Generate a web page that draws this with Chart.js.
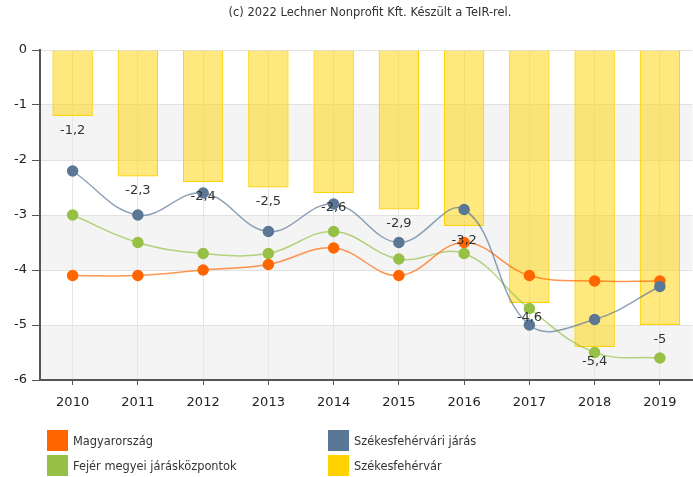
<!DOCTYPE html>
<html><head><meta charset="utf-8">
<script src="https://cdn.jsdelivr.net/npm/chart.js@4.4.1/dist/chart.umd.min.js"></script>
<style>
html,body{margin:0;padding:0;background:#fff;overflow:hidden;}
#wrap{position:relative;width:693px;height:477px;overflow:hidden;}
#c{position:absolute;left:0;top:0;}
#legend{position:absolute;left:0;top:0;width:693px;height:477px;pointer-events:none;font-family:"DejaVu Sans",sans-serif;font-size:11.4px;color:#333;}
.li{position:absolute;display:flex;align-items:center;height:21px;}
.li span.b{display:inline-block;width:21px;height:21px;margin-right:5px;}
</style></head>
<body><div id="wrap"><canvas id="c" width="699" height="477"></canvas><div id="legend"></div></div>
<script>
const categories = ['2010','2011','2012','2013','2014','2015','2016','2017','2018','2019'];
const magyarorszag = [-4.1,-4.1,-4.0,-3.9,-3.6,-4.1,-3.5,-4.1,-4.2,-4.2];
const jaras = [-2.2,-3.0,-2.6,-3.3,-2.8,-3.5,-2.9,-5.0,-4.9,-4.3];
const jaraskozpontok = [-3.0,-3.5,-3.7,-3.7,-3.3,-3.8,-3.7,-4.7,-5.5,-5.6];
const szekesfehervar = [-1.2,-2.3,-2.4,-2.5,-2.6,-2.9,-3.2,-4.6,-5.4,-5.0];
const yTicks = [0,-1,-2,-3,-4,-5,-6];
const seriesNames = ['Magyarország','Székesfehérvári járás','Fejér megyei járásközpontok','Székesfehérvár'];
const titleText = '(c) 2022 Lechner Nonprofit Kft. Készült a TeIR-rel.';

const COL = {orange:'#ff6600', blue:'#5b7796', green:'#96c146', yellow:'#ffd200'};

const bandPlugin = {
  id:'bands',
  beforeDraw(chart){
    const {ctx, chartArea:a, scales:{y}} = chart;
    ctx.save();
    ctx.fillStyle = '#f4f4f4';
    [[-1,-2],[-3,-4],[-5,-6]].forEach(([t,b])=>{
      const y1 = y.getPixelForValue(t), y2 = y.getPixelForValue(b);
      ctx.fillRect(a.left, y1, a.right-a.left, y2-y1);
    });
    ctx.restore();
  }
};

const labelPlugin = {
  id:'barLabels',
  afterDatasetsDraw(chart){
    const {ctx} = chart;
    const idx = chart.data.datasets.findIndex(d=>d.type==='bar');
    const meta = chart.getDatasetMeta(idx);
    ctx.save();
    ctx.font = '13px "DejaVu Sans", sans-serif';
    ctx.fillStyle = '#333';
    ctx.textAlign = 'center';
    ctx.textBaseline = 'top';
    meta.data.forEach((el,i)=>{
      const v = chart.data.datasets[idx].data[i];
      ctx.fillText(String(v).replace('.',','), el.x, el.y+8);
    });
    ctx.restore();
  },
  afterDraw(chart){
    const {ctx} = chart;
    ctx.save();
    ctx.font = '11.5px "DejaVu Sans", sans-serif';
    ctx.fillStyle = '#333';
    ctx.textAlign = 'center';
    ctx.textBaseline = 'middle';
    ctx.fillText(titleText, 370, 13);
    ctx.restore();
  }
};

const lineDs = (label,data,color,order)=>({
  type:'line', label, data, order,
  borderColor: color+'b0', backgroundColor: color,
  pointBackgroundColor: color, pointBorderColor: color,
  pointRadius:5, pointHoverRadius:5, borderWidth:1.5, tension:0.4, fill:false
});

new Chart(document.getElementById('c'), {
  data:{
    labels: categories,
    datasets:[
      {type:'bar', label:seriesNames[3], data:szekesfehervar, order:10,
       backgroundColor:'rgba(255,214,20,0.55)', borderColor:COL.yellow, borderWidth:1.2,
       barPercentage:0.62, categoryPercentage:1.0},
      lineDs(seriesNames[2], jaraskozpontok, COL.green, 4),
      lineDs(seriesNames[0], magyarorszag, COL.orange, 3),
      lineDs(seriesNames[1], jaras, COL.blue, 2),
    ]
  },
  options:{
    responsive:false, animation:false,
    layout:{padding:{top:50,right:0,bottom:62,left:0}},
    plugins:{ legend:{display:false}, tooltip:{enabled:false}, title:{display:false} },
    scales:{
      x:{
        offset:true,
        grid:{offset:false, color:'#e6e6e6', tickColor:'#555', tickLength:5, drawOnChartArea:true},
        border:{color:'#555', width:2},
        ticks:{color:'#222', font:{family:'"DejaVu Sans", sans-serif', size:13}, padding:10},
        afterFit(s){ s.height = 35; s.paddingLeft = 0; s.paddingRight = 0; }
      },
      y:{
        min:-6, max:0,
        afterBuildTicks(s){ s.ticks = yTicks.map(v=>({value:v})); },
        grid:{color:'#e2e2e2', tickColor:'#555', tickLength:8},
        border:{color:'#555', width:2},
        ticks:{color:'#222', font:{family:'"DejaVu Sans", sans-serif', size:13}, padding:5},
        afterFit(s){ s.width = 40; s.paddingTop = 0; s.paddingBottom = 0; }
      }
    }
  },
  plugins:[bandPlugin, labelPlugin]
});

const legendItems = [
  {name:seriesNames[0], color:COL.orange, x:47, y:430},
  {name:seriesNames[2], color:COL.green, x:47, y:455},
  {name:seriesNames[1], color:COL.blue, x:328, y:430},
  {name:seriesNames[3], color:COL.yellow, x:328, y:455},
];
const lg = document.getElementById('legend');
legendItems.forEach(it=>{
  const d = document.createElement('div');
  d.className='li'; d.style.left=it.x+'px'; d.style.top=it.y+'px';
  d.innerHTML = '<span class="b" style="background:'+it.color+'"></span><span></span>';
  d.lastChild.textContent = it.name;
  lg.appendChild(d);
});
</script></body></html>
